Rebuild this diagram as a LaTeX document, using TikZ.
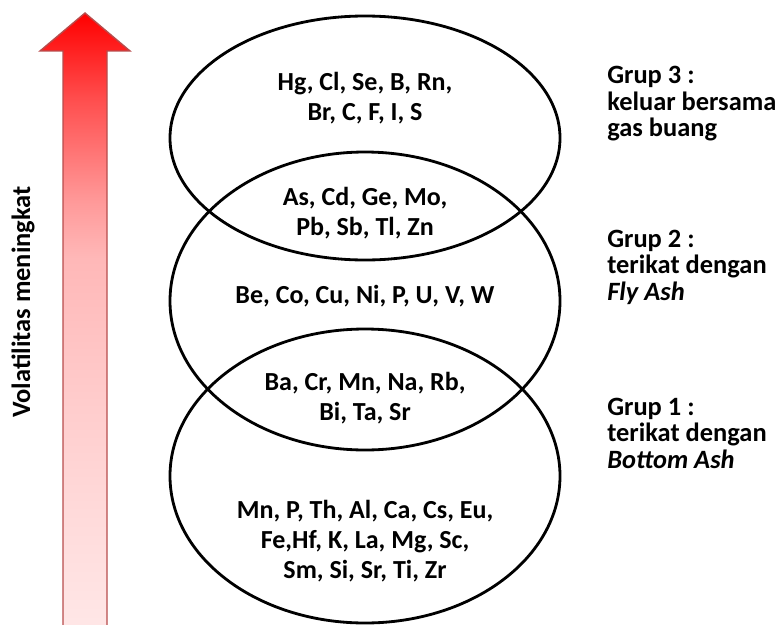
\documentclass[tikz,border=0pt]{standalone}
\usepackage{fontspec}
\setmainfont{Carlito}
\usepackage{tikz}
\usetikzlibrary{calc}
\tikzset{el/.style={font=\bfseries\fontsize{18.5}{21.5}\selectfont,align=center,inner sep=0pt}}
\tikzset{grp/.style={font=\bfseries\fontsize{18.8}{18.8}\selectfont,align=left,inner sep=0pt}}
\tikzset{ring/.style={line width=2pt,black}}
\pgfdeclareverticalshading{volshade}{100bp}{rgb(0bp)=(1,0.91,0.91); rgb(25bp)=(1,0.91,0.91);
  rgb(36bp)=(1,0.85,0.85); rgb(44bp)=(1,0.8,0.8); rgb(55.5bp)=(1,0.72,0.72);
  rgb(60bp)=(1,0.6,0.6); rgb(68bp)=(1,0.31,0.31); rgb(75bp)=(1,0,0); rgb(100bp)=(1,0,0)}

\begin{document}
\begin{tikzpicture}[x=0.025cm,y=-0.025cm]
  \useasboundingbox (0,0) rectangle (780,624);
  % arrow
  \shade[shading=volshade,draw=red!60!black!70,line width=1pt]
    (63,640)--(63,51)--(40,51)--(85,13)--(130,51)--(107,51)--(107,640)--cycle;
  \node[grp,rotate=90] (vol) at (23,302) {Volatilitas meningkat};
  % the three groups
  \draw[ring] (365,138) ellipse [x radius=195,y radius=122];
  \draw[ring] (365,301) ellipse [x radius=195,y radius=149];
  \draw[ring] (365,476) ellipse [x radius=195,y radius=147];
  \node[el] (g3) at (365,98) {Hg, Cl, Se, B, Rn,\\Br, C, F, I, S};
  \node[el] (g23) at (365,213) {As, Cd, Ge, Mo,\\Pb, Sb, Tl, Zn};
  \node[el] (g2) at (365,296) {Be, Co, Cu, Ni, P, U, V, W};
  \node[el] (g12) at (365,398) {Ba, Cr, Mn, Na, Rb,\\Bi, Ta, Sr};
  \node[el] (g1) at (365,541) {Mn, P, Th, Al, Ca, Cs, Eu,\\Fe,Hf, K, La, Mg, Sc,\\Sm, Si, Sr, Ti, Zr};
  \node[grp,anchor=west] (lab3) at (607,104) {Grup 3 :\\keluar bersama\\gas buang};
  \node[grp,anchor=west] (lab2) at (607,267) {Grup 2 :\\terikat dengan\\\textit{Fly Ash}};
  \node[grp,anchor=west] (lab1) at (607,433) {Grup 1 :\\terikat dengan\\\textit{Bottom Ash}};
\end{tikzpicture}
\end{document}
